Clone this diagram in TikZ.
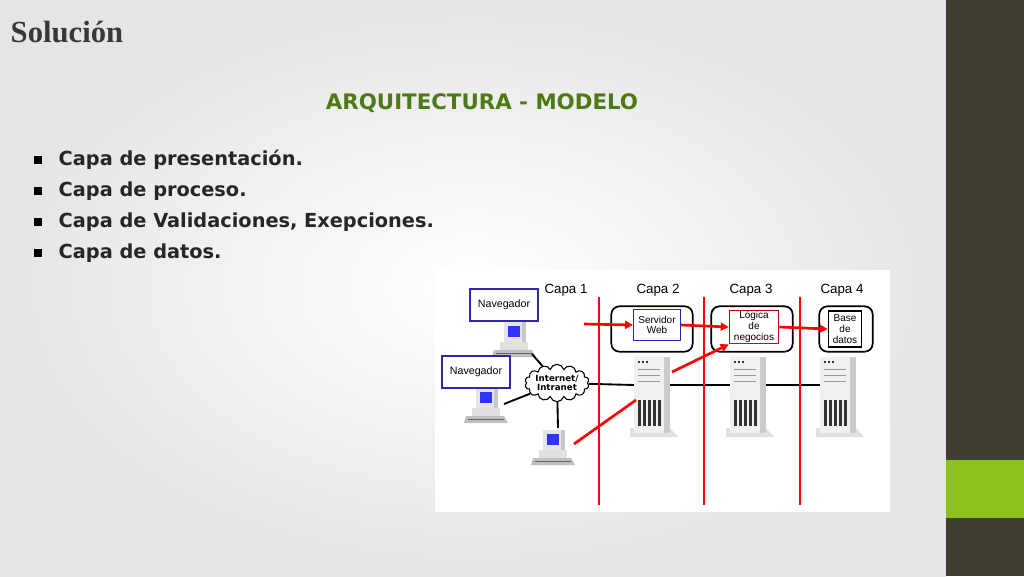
\documentclass[tikz,border=0pt]{standalone}
\usepackage{fontspec}
\setmainfont{Liberation Serif}
\setsansfont{DejaVu Sans}
\newfontfamily\arialfont{Liberation Sans}
\usetikzlibrary{positioning,shapes.symbols,arrows.meta}
\definecolor{barolive}{HTML}{3F3E31}
\definecolor{bargreen}{HTML}{8CC21C}
\definecolor{headgreen}{HTML}{4D7A17}
\definecolor{netblue}{HTML}{2B2BA8}
\tikzset{
  bullet/.style={fill=black, minimum size=6pt, inner sep=0pt},
  itemtext/.style={anchor=west, font=\sffamily\bfseries\fontsize{14.5}{16}\selectfont, text=black!85},
  capa/.style={font=\arialfont\fontsize{10}{12}\selectfont},
  tier/.style={draw, line width=1.3pt, rounded corners=6pt},
  inner/.style={draw, line width=1pt, align=center, font=\arialfont\fontsize{7.5}{8}\selectfont, inner sep=1pt},
  navbox/.style={draw=netblue, line width=1.2pt, fill=white, font=\arialfont\fontsize{8}{10}\selectfont, minimum width=51pt, minimum height=24pt},
  redline/.style={red, line width=2pt},
  redarrow/.style={red, line width=2pt, -{Triangle[length=6pt,width=6pt]}},
  netline/.style={black, line width=1.4pt}
}
% computer pic
\newcommand{\pcicon}[2]{%
  \fill[black!25] (#1-20,#2+6) -- (#1+18,#2+6) -- (#1+22,#2+13) -- (#1-22,#2+13) -- cycle;
  \draw[black!60] (#1-18,#2+9) -- (#1+18,#2+9);
  \fill[black!12] (#1-14,#2-2) rectangle (#1+14,#2+6);
  \fill[black!10] (#1-10,#2-22) rectangle (#1+12,#2-2);
  \fill[black!22] (#1+8,#2-22) rectangle (#1+12,#2-2);
  \fill[blue!80] (#1-6,#2-18) rectangle (#1+6,#2-7);
}
% server pic
\newcommand{\srvicon}[2]{%
  \fill[black!12] (#1-22,#2+42) -- (#1+26,#2+42) -- (#1+18,#2+33) -- (#1-22,#2+33) -- cycle;
  \fill[black!6] (#1-18,#2-38) rectangle (#1+18,#2+38);
  \fill[black!20] (#1+12,#2-38) rectangle (#1+18,#2+38);
  \foreach \k in {0,1,2} \fill[black!80] (#1-14+\k*4,#2-34) rectangle ++(2,2);
  \foreach \k in {0,1,2} \draw[black!40] (#1-14,#2-26+\k*6) -- (#1+8,#2-26+\k*6);
  \foreach \k in {0,...,4} \fill[black!80] (#1-14+\k*5,#2+5) rectangle ++(3,26);
}
\begin{document}
\begin{tikzpicture}[x=0.75pt, y=-0.75pt]
\useasboundingbox (0,0) rectangle (1024,576);
\shade[inner color=white, outer color=black!10] (0,0) rectangle (946,576);
\fill[barolive] (946,0) rectangle (1024,576);
\fill[bargreen] (946,460) rectangle (1024,518);

\node[anchor=west, font=\bfseries\fontsize{23}{26}\selectfont, text=black!78] (title) at (6,32) {Solución};
\node[font=\sffamily\bfseries\fontsize{16}{19}\selectfont, text=headgreen] (head) at (482,103) {ARQUITECTURA - MODELO};

\foreach \t [count=\i] in {Capa de presentación., Capa de proceso., {Capa de Validaciones, Exepciones.}, Capa de datos.} {
  \node[bullet] (b\i) at (38,129+\i*31) {};
  \node[itemtext] (it\i) at (54,129+\i*31) {\t};
}

% diagram
\fill[white] (435,270) rectangle (890,512);
\node[capa] (c1) at (566,290) {Capa 1};
\node[capa] (c2) at (658,290) {Capa 2};
\node[capa] (c3) at (751,290) {Capa 3};
\node[capa] (c4) at (842,290) {Capa 4};

\node[tier, minimum width=61pt, minimum height=34pt] (t2) at (652,329) {};
\node[tier, minimum width=61pt, minimum height=34pt] (t3) at (752,329) {};
\node[tier, minimum width=40pt, minimum height=34pt] (t4) at (846,329) {};
\node[inner, draw=netblue, minimum width=35pt, minimum height=23pt] (web) at (657,325) {Servidor\\Web};
\node[inner, draw=red!80!black, minimum width=37pt, minimum height=25pt] (logica) at (754,327) {Lógica\\de\\negocios};
\node[inner, draw=black, minimum width=25pt, minimum height=27pt] (bd) at (845,329) {Base\\de\\datos};

\srvicon{652}{395}
\srvicon{748}{395}
\srvicon{838}{395}

\pcicon{514}{344}
\pcicon{486}{410}
\pcicon{553}{452}
\coordinate (p1) at (532,354);
\coordinate (p2) at (504,404);
\coordinate (p3) at (558,428);
\node[navbox] (nav1) at (504,305) {Navegador};
\node[navbox] (nav2) at (476,372) {Navegador};

\node[cloud, draw, fill=white, cloud puffs=14, aspect=2.2, inner sep=0pt, line width=0.8pt,
  font=\sffamily\bfseries\fontsize{6.5}{7}\selectfont, align=center] (net) at (557,383) {Internet/\\Intranet};
\draw[netline] (p1) -- (net);
\draw[netline] (p2) -- (net);
\draw[netline] (p3) -- (net);
\draw[netline] (net) -- (634,385);
\draw[netline] (670,385) -- (730,385);
\draw[netline] (766,385) -- (820,385);

\foreach \x in {599,704,800} \draw[redline] (\x,297) -- (\x,505);
\coordinate (rin) at (584,324);
\draw[redarrow] (rin) -- (web.west);
\draw[redarrow] (web.east) -- (logica.west);
\draw[redarrow] (logica.east) -- (bd.west);
\coordinate (pc3) at (574,444);
\coordinate (sin) at (636,400);
\coordinate (sout) at (672,372);
\draw[redline] (pc3) -- (sin);
\draw[redarrow] (sout) -- (logica.south west);
\end{tikzpicture}
\end{document}
